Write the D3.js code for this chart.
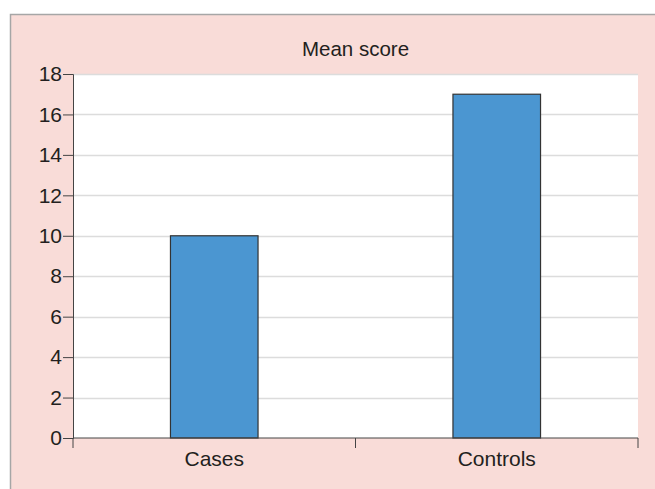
<!DOCTYPE html>
<html><head><meta charset="utf-8">
<script src="https://cdn.jsdelivr.net/npm/d3@7"></script>
<style>body{margin:0;background:#fff}svg{display:block}text{font-family:"Liberation Sans",Arial,sans-serif;fill:#231f20}</style>
</head><body><svg id="c" width="655" height="489"></svg>
<script>
const categories = ["Cases", "Controls"];
const values = [10, 17];
const yTicks = [0, 2, 4, 6, 8, 10, 12, 14, 16, 18];
const title = "Mean score";

const svg = d3.select("#c");
const W = 655, H = 489;
const m = {left: 73, right: 17, top: 74, bottom: 51};

svg.append("rect").attr("x", 10).attr("y", 14).attr("width", W - 10).attr("height", H - 14)
  .attr("fill", "#f9dcd8");
svg.append("path").attr("d", `M10.5,${H}V14.5H${W}`).attr("fill", "none").attr("stroke", "#a6a6a6").attr("stroke-width", 1.5);

const x = d3.scaleBand().domain(categories).range([m.left, W - m.right]).padding(0);
const y = d3.scaleLinear().domain([0, 18]).range([H - m.bottom, m.top]);

svg.append("rect").attr("x", m.left).attr("y", m.top).attr("width", W - m.right - m.left)
  .attr("height", H - m.bottom - m.top).attr("fill", "#fff");

svg.append("g").selectAll("line").data(yTicks.filter(d => d > 0)).join("line")
  .attr("x1", m.left).attr("x2", W - m.right)
  .attr("y1", d => Math.round(y(d)) + 0.5).attr("y2", d => Math.round(y(d)) + 0.5)
  .attr("stroke", "#dcdcdc").attr("stroke-width", 1.5);

const bw = x.bandwidth() * 0.31;
svg.append("g").selectAll("rect").data(values).join("rect")
  .attr("x", (d, i) => x(categories[i]) + x.bandwidth() / 2 - bw / 2)
  .attr("y", d => y(d)).attr("width", bw).attr("height", d => y(0) - y(d))
  .attr("fill", "#4b96d1").attr("stroke", "#333").attr("stroke-width", 1.2);

const ya = svg.append("g").attr("transform", `translate(${m.left},0)`)
  .call(d3.axisLeft(y).tickValues(yTicks).tickSize(10).tickPadding(1).tickFormat(d3.format("d")));
ya.selectAll("text").style("font-size", "21px");
ya.select(".domain").attr("stroke", "#444");
ya.selectAll(".tick line").attr("stroke", "#444");

const xa = svg.append("g").attr("transform", `translate(0,${H - m.bottom})`)
  .call(d3.axisBottom(x).tickSize(0).tickPadding(13));
xa.selectAll("text").style("font-size", "21px");
xa.select(".domain").attr("stroke", "#444").attr("d", `M${m.left},0H${W - m.right}`);
xa.append("g").selectAll("line").data([m.left, (m.left + W - m.right) / 2, W - m.right]).join("line")
  .attr("x1", d => d).attr("x2", d => d).attr("y1", 0).attr("y2", 10).attr("stroke", "#444");

svg.append("text").attr("x", (m.left + W - m.right) / 2).attr("y", 56)
  .attr("text-anchor", "middle").style("font-size", "20.5px").text(title);
</script></body></html>
